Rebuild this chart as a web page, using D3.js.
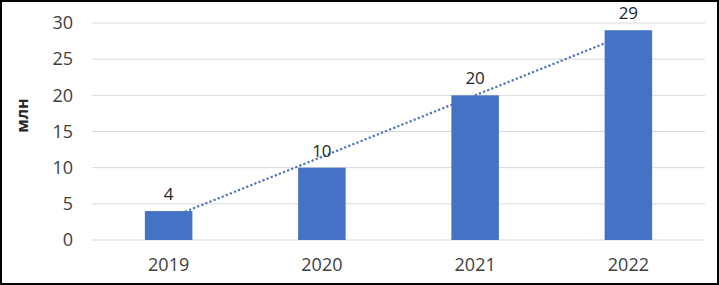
<!DOCTYPE html>
<html><head><meta charset="utf-8">
<script src="https://cdn.jsdelivr.net/npm/d3@7"></script>
<style>
html,body{margin:0;padding:0;background:#fff;}
svg{display:block;}
text{font-family:"Open Sans","Liberation Sans",sans-serif;}
</style></head>
<body>
<script>
const categories = ["2019", "2020", "2021", "2022"];
const values = [4, 10, 20, 29];
const yTicks = [0, 5, 10, 15, 20, 25, 30];
const axisTitle = "млн";

(function () {
const W = 719, H = 285;
const svg = d3.select("body").append("svg").attr("width", W).attr("height", H);
svg.append("rect").attr("x", 1).attr("y", 1).attr("width", W - 2).attr("height", H - 2)
  .attr("fill", "#fff").attr("stroke", "#000").attr("stroke-width", 2);

const pLeft = 92, pRight = 705, pTop = 23, pBottom = 240;
const x = d3.scaleBand().domain(categories).range([pLeft, pRight]).paddingInner(0.69).paddingOuter(0.345);
const y = d3.scaleLinear().domain([0, 30]).range([pBottom, pTop]);

// gridlines
svg.append("g").selectAll("line").data(yTicks).join("line")
  .attr("x1", pLeft).attr("x2", pRight)
  .attr("y1", d => y(d)).attr("y2", d => y(d))
  .attr("stroke", "#d9d9d9").attr("stroke-width", 1);

// y axis labels
const yAxis = d3.axisLeft(y).tickValues(yTicks).tickSize(0).tickPadding(0);
const gy = svg.append("g").attr("transform", `translate(73,0)`).call(yAxis);
gy.select(".domain").remove();
gy.selectAll("text").attr("font-size", 18).attr("fill", "#404040")
  .attr("font-family", "'Open Sans','Liberation Sans',sans-serif");

// x axis labels
const xAxis = d3.axisBottom(x).tickSize(0).tickPadding(0);
const gx = svg.append("g").attr("transform", `translate(0,${pBottom + 18})`).call(xAxis);
gx.select(".domain").remove();
gx.selectAll("text").attr("font-size", 18).attr("fill", "#404040")
  .attr("font-family", "'Open Sans','Liberation Sans',sans-serif");

// trendline (linear regression) drawn behind bars
const xs = values.map((_, i) => i);
const mx = d3.mean(xs), my = d3.mean(values);
const slope = d3.sum(xs.map((xi, i) => (xi - mx) * (values[i] - my))) / d3.sum(xs.map(xi => (xi - mx) ** 2));
const intercept = my - slope * mx;
const trend = xs.map(xi => intercept + slope * xi);
const line = d3.line().x((d, i) => x(categories[i]) + x.bandwidth() / 2).y(d => y(d));
svg.append("path").datum(trend).attr("d", line)
  .attr("fill", "none").attr("stroke", "#4f74b8").attr("stroke-width", 2.2)
  .attr("stroke-dasharray", "2.2,2.2");

// bars
svg.append("g").selectAll("rect").data(values).join("rect")
  .attr("x", (d, i) => x(categories[i]))
  .attr("y", d => y(d))
  .attr("width", x.bandwidth())
  .attr("height", d => y(0) - y(d))
  .attr("fill", "#4472c4");

// value labels
svg.append("g").selectAll("text").data(values).join("text")
  .attr("x", (d, i) => x(categories[i]) + x.bandwidth() / 2)
  .attr("y", d => y(d) - 11)
  .attr("text-anchor", "middle")
  .attr("font-size", 17).attr("fill", "#262626")
  .text(d => d);

// axis title
svg.append("text")
  .attr("transform", `translate(28,${(pTop + pBottom) / 2 - 16}) rotate(-90)`)
  .attr("text-anchor", "middle")
  .attr("font-size", 16).attr("font-weight", "bold").attr("fill", "#262626")
  .text(axisTitle);
})();
</script>
</body></html>
